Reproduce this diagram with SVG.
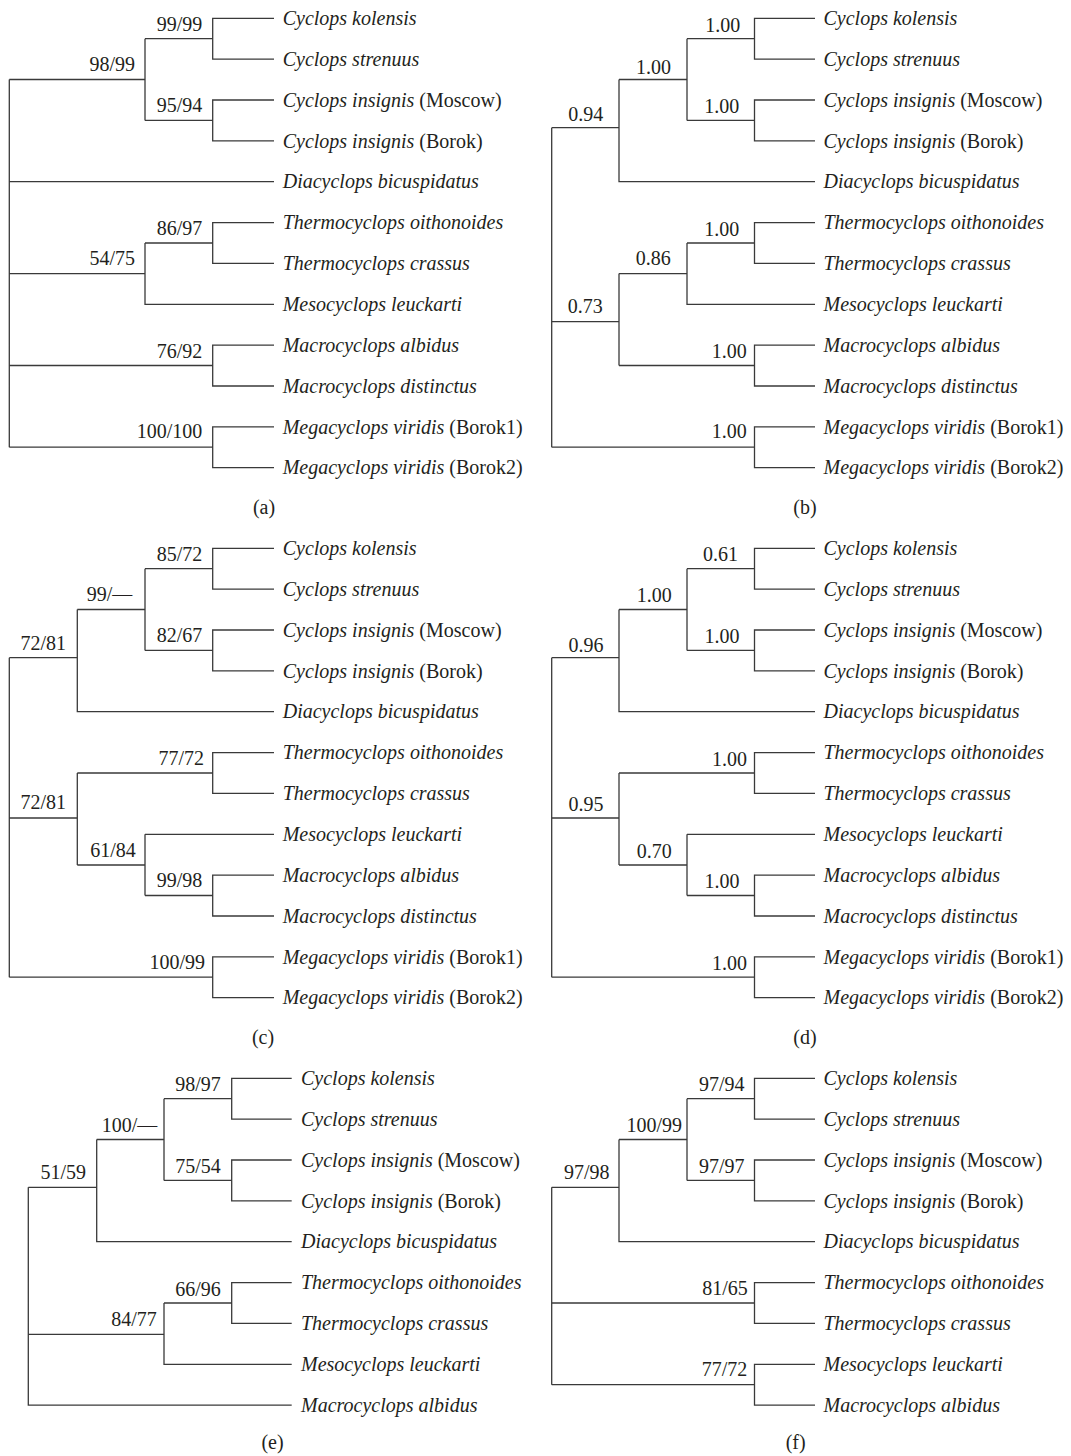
<svg xmlns="http://www.w3.org/2000/svg" width="1071" height="1456" viewBox="0 0 1071 1456">
<style>
.br{fill:none;stroke:#3a3a3a;stroke-width:1.3}
.sp{font-family:"Liberation Serif",serif;font-size:20px;font-style:italic;fill:#231f20}
.r{font-style:normal}
.lb{font-family:"Liberation Serif",serif;font-size:20px;fill:#231f20;text-anchor:end}
.cap{font-family:"Liberation Serif",serif;font-size:20px;fill:#231f20;text-anchor:middle}
</style>
<rect width="1071" height="1456" fill="#ffffff"/>

<g id="connectors">
<!-- panel a -->
<path class="br" d="M9.3 79.5V447.2 M9.3 79.5H145 M145 38.7V120.4 M145 38.7H212.7 M274 18.3H212.7V59.2H274 M145 120.4H212.7 M274 100H212.7V140.9H274 M9.3 181.7H274 M9.3 273.6H145 M145 243V304.3H274 M145 243H212.7 M274 222.6H212.7V263.4H274 M9.3 365.5H212.7 M274 345.1H212.7V386H274 M9.3 447.2H212.7 M274 426.8H212.7V467.7H274"/>
<!-- panel b -->
<path class="br" d="M551.7 127.7V447.2 M551.7 127.7H619 M619 79.5V181.7H815 M619 79.5H687 M687 38.7V120.4 M687 38.7H754.5 M815 18.3H754.5V59.2H815 M687 120.4H754.5 M815 100H754.5V140.9H815 M551.7 321.7H619 M619 273.6V365.5 M619 273.6H687 M687 243V304.3H815 M687 243H754.5 M815 222.6H754.5V263.4H815 M619 365.5H754.5 M815 345.1H754.5V386H815 M551.7 447.2H754.5 M815 426.8H754.5V467.7H815"/>
<!-- panel c -->
<path class="br" d="M9.3 657.7V977.2 M9.3 657.7H77.3 M77.3 609.5V711.7H274 M77.3 609.5H145 M145 568.7V650.4 M145 568.7H212.7 M274 548.3H212.7V589.2H274 M145 650.4H212.7 M274 630H212.7V670.9H274 M9.3 818H77.3 M77.3 773V865 M77.3 773H212.7 M274 752.6H212.7V793.4H274 M77.3 865H145 M145 834.3V895.5 M145 834.3H274 M145 895.5H212.7 M274 875.1H212.7V916H274 M9.3 977.2H212.7 M274 956.8H212.7V997.7H274"/>
<!-- panel d -->
<path class="br" d="M551.7 657.7V977.2 M551.7 657.7H619 M619 609.5V711.7H815 M619 609.5H687 M687 568.7V650.4 M687 568.7H754.5 M815 548.3H754.5V589.2H815 M687 650.4H754.5 M815 630H754.5V670.9H815 M551.7 818H619 M619 773V865 M619 773H754.5 M815 752.6H754.5V793.4H815 M619 865H687 M687 834.3V895.5 M687 834.3H815 M687 895.5H754.5 M815 875.1H754.5V916H815 M551.7 977.2H754.5 M815 956.8H754.5V997.7H815"/>
<!-- panel e -->
<path class="br" d="M28.3 1187.3V1405.1H291.7 M28.3 1187.3H96.7 M96.7 1139.5V1241.7H291.7 M96.7 1139.5H164 M164 1098.7V1180.4 M164 1098.7H231.7 M291.7 1078.3H231.7V1119.2H291.7 M164 1180.4H231.7 M291.7 1160H231.7V1200.9H291.7 M28.3 1334.3H164 M164 1303V1364.3H291.7 M164 1303H231.7 M291.7 1282.6H231.7V1323.4H291.7"/>
<!-- panel f -->
<path class="br" d="M551.7 1187.3V1384.7 M551.7 1187.3H619 M619 1139.5V1241.7H815 M619 1139.5H687 M687 1098.7V1180.4 M687 1098.7H754.5 M815 1078.3H754.5V1119.2H815 M687 1180.4H754.5 M815 1160H754.5V1200.9H815 M551.7 1303H754.5 M815 1282.6H754.5V1323.4H815 M551.7 1384.7H754.5 M815 1364.3H754.5V1405.1H815"/>
</g>

<!-- panel a leaves -->
<g id="a-leaf-0"><text class="sp" x="282.7" y="25">Cyclops kolensis</text></g>
<g id="a-leaf-1"><text class="sp" x="282.7" y="65.9">Cyclops strenuus</text></g>
<g id="a-leaf-2"><text class="sp" x="282.7" y="106.7">Cyclops insignis <tspan class="r">(Moscow)</tspan></text></g>
<g id="a-leaf-3"><text class="sp" x="282.7" y="147.6">Cyclops insignis <tspan class="r">(Borok)</tspan></text></g>
<g id="a-leaf-4"><text class="sp" x="282.7" y="188.4">Diacyclops bicuspidatus</text></g>
<g id="a-leaf-5"><text class="sp" x="282.7" y="229.3">Thermocyclops oithonoides</text></g>
<g id="a-leaf-6"><text class="sp" x="282.7" y="270.1">Thermocyclops crassus</text></g>
<g id="a-leaf-7"><text class="sp" x="282.7" y="311">Mesocyclops leuckarti</text></g>
<g id="a-leaf-8"><text class="sp" x="282.7" y="351.8">Macrocyclops albidus</text></g>
<g id="a-leaf-9"><text class="sp" x="282.7" y="392.7">Macrocyclops distinctus</text></g>
<g id="a-leaf-10"><text class="sp" x="282.7" y="433.5">Megacyclops viridis <tspan class="r">(Borok1)</tspan></text></g>
<g id="a-leaf-11"><text class="sp" x="282.7" y="474.4">Megacyclops viridis <tspan class="r">(Borok2)</tspan></text></g>
<g id="a-n1"><text class="lb" x="202.3" y="30.7">99/99</text></g>
<g id="a-n2"><text class="lb" x="135" y="71">98/99</text></g>
<g id="a-n3"><text class="lb" x="202.3" y="111.7">95/94</text></g>
<g id="a-n4"><text class="lb" x="202.3" y="235">86/97</text></g>
<g id="a-n5"><text class="lb" x="135" y="265">54/75</text></g>
<g id="a-n6"><text class="lb" x="202.3" y="358.3">76/92</text></g>
<g id="a-n7"><text class="lb" x="202.3" y="438.3">100/100</text></g>
<g id="a-cap"><text class="cap" x="264" y="514">(a)</text></g>

<!-- panel b -->
<g id="b-leaf-0"><text class="sp" x="823.5" y="25">Cyclops kolensis</text></g>
<g id="b-leaf-1"><text class="sp" x="823.5" y="65.9">Cyclops strenuus</text></g>
<g id="b-leaf-2"><text class="sp" x="823.5" y="106.7">Cyclops insignis <tspan class="r">(Moscow)</tspan></text></g>
<g id="b-leaf-3"><text class="sp" x="823.5" y="147.6">Cyclops insignis <tspan class="r">(Borok)</tspan></text></g>
<g id="b-leaf-4"><text class="sp" x="823.5" y="188.4">Diacyclops bicuspidatus</text></g>
<g id="b-leaf-5"><text class="sp" x="823.5" y="229.3">Thermocyclops oithonoides</text></g>
<g id="b-leaf-6"><text class="sp" x="823.5" y="270.1">Thermocyclops crassus</text></g>
<g id="b-leaf-7"><text class="sp" x="823.5" y="311">Mesocyclops leuckarti</text></g>
<g id="b-leaf-8"><text class="sp" x="823.5" y="351.8">Macrocyclops albidus</text></g>
<g id="b-leaf-9"><text class="sp" x="823.5" y="392.7">Macrocyclops distinctus</text></g>
<g id="b-leaf-10"><text class="sp" x="823.5" y="433.5">Megacyclops viridis <tspan class="r">(Borok1)</tspan></text></g>
<g id="b-leaf-11"><text class="sp" x="823.5" y="474.4">Megacyclops viridis <tspan class="r">(Borok2)</tspan></text></g>
<g id="b-n1"><text class="lb" x="740.2" y="32">1.00</text></g>
<g id="b-n2"><text class="lb" x="671" y="73.5">1.00</text></g>
<g id="b-n3"><text class="lb" x="603.3" y="121">0.94</text></g>
<g id="b-n4"><text class="lb" x="739.3" y="113.3">1.00</text></g>
<g id="b-n5"><text class="lb" x="739.3" y="235.7">1.00</text></g>
<g id="b-n6"><text class="lb" x="670.7" y="265">0.86</text></g>
<g id="b-n7"><text class="lb" x="602.7" y="313.3">0.73</text></g>
<g id="b-n8"><text class="lb" x="746.7" y="357.7">1.00</text></g>
<g id="b-n9"><text class="lb" x="746.7" y="438.3">1.00</text></g>
<g id="b-cap"><text class="cap" x="805" y="514">(b)</text></g>

<!-- panel c -->
<g id="c-leaf-0"><text class="sp" x="282.7" y="555">Cyclops kolensis</text></g>
<g id="c-leaf-1"><text class="sp" x="282.7" y="595.9">Cyclops strenuus</text></g>
<g id="c-leaf-2"><text class="sp" x="282.7" y="636.7">Cyclops insignis <tspan class="r">(Moscow)</tspan></text></g>
<g id="c-leaf-3"><text class="sp" x="282.7" y="677.6">Cyclops insignis <tspan class="r">(Borok)</tspan></text></g>
<g id="c-leaf-4"><text class="sp" x="282.7" y="718.4">Diacyclops bicuspidatus</text></g>
<g id="c-leaf-5"><text class="sp" x="282.7" y="759.3">Thermocyclops oithonoides</text></g>
<g id="c-leaf-6"><text class="sp" x="282.7" y="800.1">Thermocyclops crassus</text></g>
<g id="c-leaf-7"><text class="sp" x="282.7" y="841">Mesocyclops leuckarti</text></g>
<g id="c-leaf-8"><text class="sp" x="282.7" y="881.8">Macrocyclops albidus</text></g>
<g id="c-leaf-9"><text class="sp" x="282.7" y="922.7">Macrocyclops distinctus</text></g>
<g id="c-leaf-10"><text class="sp" x="282.7" y="963.5">Megacyclops viridis <tspan class="r">(Borok1)</tspan></text></g>
<g id="c-leaf-11"><text class="sp" x="282.7" y="1004.4">Megacyclops viridis <tspan class="r">(Borok2)</tspan></text></g>
<g id="c-n1"><text class="lb" x="202.3" y="561">85/72</text></g>
<g id="c-n2"><text class="lb" x="132.3" y="601">99/—</text></g>
<g id="c-n3"><text class="lb" x="66" y="650">72/81</text></g>
<g id="c-n4"><text class="lb" x="202.3" y="642.3">82/67</text></g>
<g id="c-n5"><text class="lb" x="204" y="765">77/72</text></g>
<g id="c-n6"><text class="lb" x="66" y="809.3">72/81</text></g>
<g id="c-n7"><text class="lb" x="135.7" y="856.7">61/84</text></g>
<g id="c-n8"><text class="lb" x="202.3" y="887.3">99/98</text></g>
<g id="c-n9"><text class="lb" x="205" y="969">100/99</text></g>
<g id="c-cap"><text class="cap" x="263" y="1044">(c)</text></g>

<!-- panel d -->
<g id="d-leaf-0"><text class="sp" x="823.5" y="555">Cyclops kolensis</text></g>
<g id="d-leaf-1"><text class="sp" x="823.5" y="595.9">Cyclops strenuus</text></g>
<g id="d-leaf-2"><text class="sp" x="823.5" y="636.7">Cyclops insignis <tspan class="r">(Moscow)</tspan></text></g>
<g id="d-leaf-3"><text class="sp" x="823.5" y="677.6">Cyclops insignis <tspan class="r">(Borok)</tspan></text></g>
<g id="d-leaf-4"><text class="sp" x="823.5" y="718.4">Diacyclops bicuspidatus</text></g>
<g id="d-leaf-5"><text class="sp" x="823.5" y="759.3">Thermocyclops oithonoides</text></g>
<g id="d-leaf-6"><text class="sp" x="823.5" y="800.1">Thermocyclops crassus</text></g>
<g id="d-leaf-7"><text class="sp" x="823.5" y="841">Mesocyclops leuckarti</text></g>
<g id="d-leaf-8"><text class="sp" x="823.5" y="881.8">Macrocyclops albidus</text></g>
<g id="d-leaf-9"><text class="sp" x="823.5" y="922.7">Macrocyclops distinctus</text></g>
<g id="d-leaf-10"><text class="sp" x="823.5" y="963.5">Megacyclops viridis <tspan class="r">(Borok1)</tspan></text></g>
<g id="d-leaf-11"><text class="sp" x="823.5" y="1004.4">Megacyclops viridis <tspan class="r">(Borok2)</tspan></text></g>
<g id="d-n1"><text class="lb" x="738" y="561">0.61</text></g>
<g id="d-n2"><text class="lb" x="671.7" y="602.3">1.00</text></g>
<g id="d-n3"><text class="lb" x="603.5" y="651.7">0.96</text></g>
<g id="d-n4"><text class="lb" x="739.5" y="643.3">1.00</text></g>
<g id="d-n5"><text class="lb" x="747" y="765.7">1.00</text></g>
<g id="d-n6"><text class="lb" x="603.5" y="810.7">0.95</text></g>
<g id="d-n7"><text class="lb" x="671.7" y="857.7">0.70</text></g>
<g id="d-n8"><text class="lb" x="739.5" y="888.3">1.00</text></g>
<g id="d-n9"><text class="lb" x="747" y="970">1.00</text></g>
<g id="d-cap"><text class="cap" x="805" y="1044">(d)</text></g>

<!-- panel e -->
<g id="e-leaf-0"><text class="sp" x="301" y="1085">Cyclops kolensis</text></g>
<g id="e-leaf-1"><text class="sp" x="301" y="1125.9">Cyclops strenuus</text></g>
<g id="e-leaf-2"><text class="sp" x="301" y="1166.7">Cyclops insignis <tspan class="r">(Moscow)</tspan></text></g>
<g id="e-leaf-3"><text class="sp" x="301" y="1207.6">Cyclops insignis <tspan class="r">(Borok)</tspan></text></g>
<g id="e-leaf-4"><text class="sp" x="301" y="1248.4">Diacyclops bicuspidatus</text></g>
<g id="e-leaf-5"><text class="sp" x="301" y="1289.3">Thermocyclops oithonoides</text></g>
<g id="e-leaf-6"><text class="sp" x="301" y="1330.1">Thermocyclops crassus</text></g>
<g id="e-leaf-7"><text class="sp" x="301" y="1371">Mesocyclops leuckarti</text></g>
<g id="e-leaf-8"><text class="sp" x="301" y="1411.8">Macrocyclops albidus</text></g>
<g id="e-n1"><text class="lb" x="220.7" y="1090.7">98/97</text></g>
<g id="e-n2"><text class="lb" x="157.3" y="1131.7">100/—</text></g>
<g id="e-n3"><text class="lb" x="86" y="1179">51/59</text></g>
<g id="e-n4"><text class="lb" x="220.7" y="1172.7">75/54</text></g>
<g id="e-n5"><text class="lb" x="220.7" y="1295.7">66/96</text></g>
<g id="e-n6"><text class="lb" x="156.7" y="1326">84/77</text></g>
<g id="e-cap"><text class="cap" x="272.5" y="1449">(e)</text></g>

<!-- panel f -->
<g id="f-leaf-0"><text class="sp" x="823.5" y="1085">Cyclops kolensis</text></g>
<g id="f-leaf-1"><text class="sp" x="823.5" y="1125.9">Cyclops strenuus</text></g>
<g id="f-leaf-2"><text class="sp" x="823.5" y="1166.7">Cyclops insignis <tspan class="r">(Moscow)</tspan></text></g>
<g id="f-leaf-3"><text class="sp" x="823.5" y="1207.6">Cyclops insignis <tspan class="r">(Borok)</tspan></text></g>
<g id="f-leaf-4"><text class="sp" x="823.5" y="1248.4">Diacyclops bicuspidatus</text></g>
<g id="f-leaf-5"><text class="sp" x="823.5" y="1289.3">Thermocyclops oithonoides</text></g>
<g id="f-leaf-6"><text class="sp" x="823.5" y="1330.1">Thermocyclops crassus</text></g>
<g id="f-leaf-7"><text class="sp" x="823.5" y="1371">Mesocyclops leuckarti</text></g>
<g id="f-leaf-8"><text class="sp" x="823.5" y="1411.8">Macrocyclops albidus</text></g>
<g id="f-n1"><text class="lb" x="744.5" y="1090.7">97/94</text></g>
<g id="f-n2"><text class="lb" x="682" y="1131.7">100/99</text></g>
<g id="f-n3"><text class="lb" x="609.5" y="1179">97/98</text></g>
<g id="f-n4"><text class="lb" x="744.5" y="1172.7">97/97</text></g>
<g id="f-n5"><text class="lb" x="747.7" y="1295">81/65</text></g>
<g id="f-n6"><text class="lb" x="747.2" y="1376">77/72</text></g>
<g id="f-cap"><text class="cap" x="795.7" y="1449">(f)</text></g>
</svg>
